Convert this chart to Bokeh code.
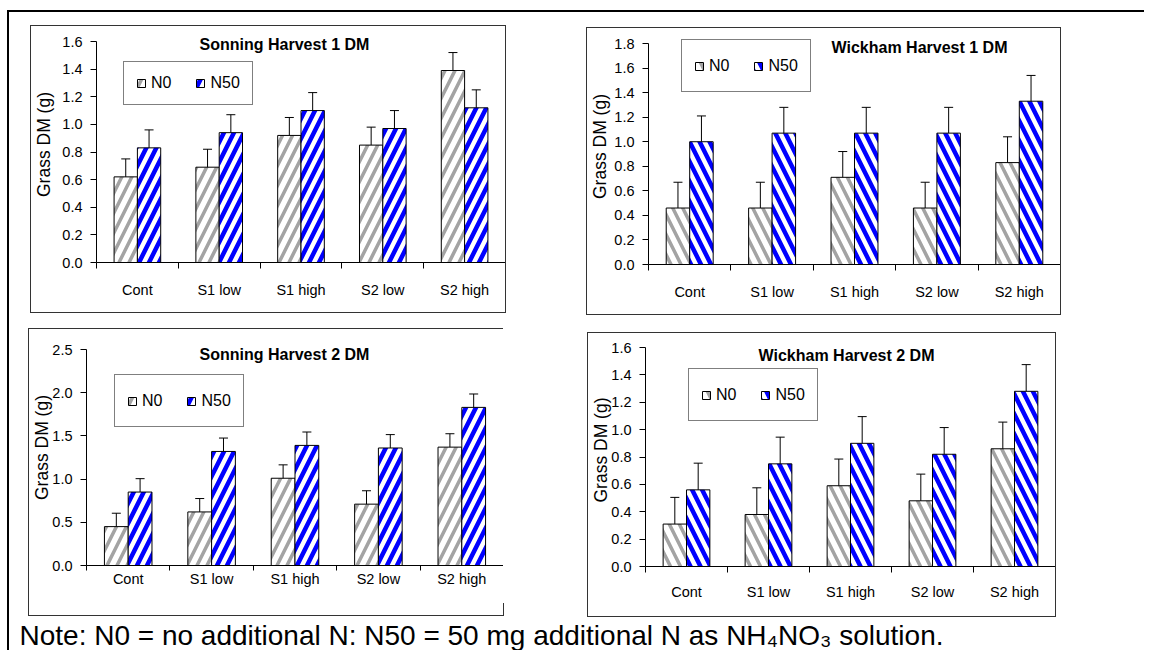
from bokeh.plotting import figure
from bokeh.models import (ColumnDataSource, Range1d, LinearAxis, FixedTicker,
                          NumeralTickFormatter, Legend, LegendItem, Label, Spacer)
from bokeh.layouts import column, row
from bokeh.embed import file_html
from bokeh.resources import INLINE

FONT = "Liberation Sans"

# ---------------- data ----------------
categories = ["Cont", "S1 low", "S1 high", "S2 low", "S2 high"]
series_labels = ["N0", "N50"]
y_axis_label = "Grass DM (g)"

sonning_h1_title = "Sonning Harvest 1 DM"
sonning_h1_n0 = [0.62, 0.69, 0.92, 0.85, 1.39]
sonning_h1_n50 = [0.83, 0.94, 1.10, 0.97, 1.12]
sonning_h1_err_n0 = [0.13, 0.13, 0.13, 0.13, 0.13]
sonning_h1_err_n50 = [0.13, 0.13, 0.13, 0.13, 0.13]
sonning_h1_ticks = [0.0, 0.2, 0.4, 0.6, 0.8, 1.0, 1.2, 1.4, 1.6]

wickham_h1_title = "Wickham Harvest 1 DM"
wickham_h1_n0 = [0.46, 0.46, 0.71, 0.46, 0.83]
wickham_h1_n50 = [1.00, 1.07, 1.07, 1.07, 1.33]
wickham_h1_err_n0 = [0.21, 0.21, 0.21, 0.21, 0.21]
wickham_h1_err_n50 = [0.21, 0.21, 0.21, 0.21, 0.21]
wickham_h1_ticks = [0.0, 0.2, 0.4, 0.6, 0.8, 1.0, 1.2, 1.4, 1.6, 1.8]

sonning_h2_title = "Sonning Harvest 2 DM"
sonning_h2_n0 = [0.45, 0.62, 1.01, 0.71, 1.37]
sonning_h2_n50 = [0.85, 1.32, 1.39, 1.36, 1.83]
sonning_h2_err_n0 = [0.155, 0.155, 0.155, 0.155, 0.155]
sonning_h2_err_n50 = [0.155, 0.155, 0.155, 0.155, 0.155]
sonning_h2_ticks = [0.0, 0.5, 1.0, 1.5, 2.0, 2.5]

wickham_h2_title = "Wickham Harvest 2 DM"
wickham_h2_n0 = [0.31, 0.38, 0.59, 0.48, 0.86]
wickham_h2_n50 = [0.56, 0.75, 0.90, 0.82, 1.28]
wickham_h2_err_n0 = [0.195, 0.195, 0.195, 0.195, 0.195]
wickham_h2_err_n50 = [0.195, 0.195, 0.195, 0.195, 0.195]
wickham_h2_ticks = [0.0, 0.2, 0.4, 0.6, 0.8, 1.0, 1.2, 1.4, 1.6]

note_text = "Note: N0 = no additional N: N50 = 50 mg additional N as NH\u2084NO\u2083 solution."

GRAY = "#a3a3a3"
BLUE = "#0000ff"
BOXLINE = "#333333"


def hatch_kwargs(direction, color, width):
    pat = "right_diagonal_line" if direction == "/" else "left_diagonal_line"
    return dict(hatch_pattern=pat, hatch_color=color, hatch_scale=20, hatch_weight=width)


def S(w, h, color=None):
    if color:
        return Spacer(width=w, height=h, styles={"background-color": color})
    return Spacer(width=w, height=h)


def make_panel(cfg):
    bl, bt, br, bb = cfg["box"]          # box lines in page pixels
    W, H = br - bl - 1, bb - bt - 1       # canvas inside the box lines
    ox, oy = bl + 1, bt + 1
    fl = cfg["axis_x"] - ox
    fb = cfg["y0"] - oy
    ytop = cfg["ytop"] - oy
    ymax = cfg["ticks"][-1]
    yend = ymax * fb / (fb - ytop)
    n = len(categories)
    p = figure(width=W, height=H, output_backend="svg", toolbar_location=None,
               x_range=Range1d(0.5, n + 0.5), y_range=Range1d(0, yend),
               x_axis_type=None, y_axis_type=None,
               min_border_left=fl, min_border_top=0,
               min_border_right=0, min_border_bottom=H - fb)
    p.outline_line_color = None
    p.background_fill_color = "white"
    p.border_fill_color = "white"

    xs = list(range(1, n + 1))
    off, bw = 0.1425, 0.285
    src0 = ColumnDataSource(dict(x=[x - off for x in xs], top=cfg["n0"],
                                 hi=[v + e for v, e in zip(cfg["n0"], cfg["e0"])]))
    src1 = ColumnDataSource(dict(x=[x + off for x in xs], top=cfg["n50"],
                                 hi=[v + e for v, e in zip(cfg["n50"], cfg["e50"])]))

    r0 = p.vbar(x="x", top="top", bottom=0, width=bw, source=src0,
                fill_color="white", line_color="black", line_width=1,
                **hatch_kwargs(cfg["dir"], GRAY, 3.5))
    r1 = p.vbar(x="x", top="top", bottom=0, width=bw, source=src1,
                fill_color="white", line_color="black", line_width=1,
                **hatch_kwargs(cfg["dir"], BLUE, 4.5))

    for src in (src0, src1):
        p.segment(x0="x", y0="top", x1="x", y1="hi", source=src,
                  line_color="black", line_width=1)
        p.scatter(x="x", y="hi", source=src, marker="dash", size=9,
                  line_color="black", line_width=1)

    yax = LinearAxis(ticker=FixedTicker(ticks=cfg["ticks"], minor_ticks=[]),
                     formatter=NumeralTickFormatter(format="0.0"),
                     axis_label=y_axis_label, bounds=(0, ymax))
    yax.axis_line_color = "black"
    yax.major_tick_line_color = "black"
    yax.major_tick_out = 6
    yax.major_tick_in = 0
    yax.minor_tick_line_color = None
    yax.major_label_standoff = 8
    yax.major_label_text_font = FONT
    yax.major_label_text_font_size = "14.5px"
    yax.major_label_text_color = "black"
    yax.axis_label_text_font = FONT
    yax.axis_label_text_font_size = "17.5px"
    yax.axis_label_text_font_style = "normal"
    yax.axis_label_text_color = "black"
    yax.axis_label_standoff = cfg["ylstand"]
    p.add_layout(yax, "left")

    xax = LinearAxis(ticker=FixedTicker(ticks=xs,
                                        minor_ticks=[x - 0.5 for x in xs] + [xs[-1] + 0.5]),
                     major_label_overrides={x: c for x, c in zip(xs, categories)})
    xax.axis_line_color = "black"
    xax.major_tick_line_color = None
    xax.major_tick_out = 0
    xax.major_tick_in = 0
    xax.minor_tick_line_color = "black"
    xax.minor_tick_out = cfg["xtick"]
    xax.minor_tick_in = 0
    xax.major_label_standoff = cfg["xstand"]
    xax.major_label_text_font = FONT
    xax.major_label_text_font_size = "14.5px"
    xax.major_label_text_color = "black"
    p.add_layout(xax, "below")

    ll, lb = cfg["legend"]
    lg = Legend(items=[LegendItem(label=series_labels[0], renderers=[r0]),
                       LegendItem(label=series_labels[1], renderers=[r1])],
                orientation="horizontal",
                location=(ll - cfg["axis_x"], cfg["y0"] - lb),
                glyph_width=10, glyph_height=10, label_standoff=5,
                spacing=24, padding=12, margin=0,
                label_height=cfg["lh"],
                label_text_font=FONT, label_text_font_size="16px",
                label_text_color="black",
                border_line_color="black", border_line_width=1,
                background_fill_color="white", background_fill_alpha=1.0)
    p.add_layout(lg)

    tx, ty = cfg["title_pos"]
    p.add_layout(Label(x=tx - cfg["axis_x"], y=cfg["y0"] - ty,
                       x_units="screen", y_units="screen",
                       text=cfg["title"], text_align="center", text_baseline="middle",
                       text_font=FONT, text_font_size="16px", text_font_style="bold",
                       text_color="black"))

    # box lines drawn as thin coloured spacers around the canvas
    rg = cfg.get("right_gap")
    if rg:
        right = column(S(1, rg), S(1, H + 2 - rg, BOXLINE))
    else:
        right = S(1, H + 2, BOXLINE)
    boxed = row(S(1, H + 2, BOXLINE), column(S(W, 1, BOXLINE), p, S(W, 1, BOXLINE)), right)
    return boxed


cfg1 = dict(box=(30, 25, 505, 312), axis_x=96, y0=262, ytop=41, ticks=sonning_h1_ticks,
            n0=sonning_h1_n0, n50=sonning_h1_n50, e0=sonning_h1_err_n0, e50=sonning_h1_err_n50,
            dir="/", title=sonning_h1_title, title_pos=(284, 44),
            legend=(123, 105), lh=18, xtick=6, xstand=13, ylstand=5)
cfg2 = dict(box=(586, 27, 1060, 314), axis_x=648, y0=264, ytop=43, ticks=wickham_h1_ticks,
            n0=wickham_h1_n0, n50=wickham_h1_n50, e0=wickham_h1_err_n0, e50=wickham_h1_err_n50,
            dir="\\", title=wickham_h1_title, title_pos=(919, 47),
            legend=(681, 92), lh=27, xtick=6, xstand=13, ylstand=1)
cfg3 = dict(box=(28, 328, 503, 615), axis_x=86, y0=565, ytop=349, ticks=sonning_h2_ticks,
            n0=sonning_h2_n0, n50=sonning_h2_n50, e0=sonning_h2_err_n0, e50=sonning_h2_err_n50,
            dir="/", title=sonning_h2_title, title_pos=(284, 354),
            legend=(114, 427), lh=27, xtick=5, xstand=0, ylstand=-3, right_gap=275)
cfg4 = dict(box=(587, 332, 1055, 616), axis_x=645, y0=566, ytop=347, ticks=wickham_h2_ticks,
            n0=wickham_h2_n0, n50=wickham_h2_n50, e0=wickham_h2_err_n0, e50=wickham_h2_err_n50,
            dir="\\", title=wickham_h2_title, title_pos=(846, 355),
            legend=(688, 421), lh=27, xtick=6, xstand=11, ylstand=-3)

b1, b2, b3, b4 = (make_panel(c) for c in (cfg1, cfg2, cfg3, cfg4))

ORIGIN_X, ROW1_Y, ROW2_Y = 9, 12, 315
row1 = row(column(S(1, cfg1["box"][1] - ROW1_Y), row(S(cfg1["box"][0] - ORIGIN_X, 1), b1)),
           column(S(1, cfg2["box"][1] - ROW1_Y), row(S(cfg2["box"][0] - cfg1["box"][2] - 1, 1), b2)))
row2 = row(column(S(1, cfg3["box"][1] - ROW2_Y), row(S(cfg3["box"][0] - ORIGIN_X, 1), b3)),
           column(S(1, cfg4["box"][1] - ROW2_Y), row(S(cfg4["box"][0] - cfg3["box"][2] - 1, 1), b4)))

# note strip
NOTE_W, NOTE_H = 1135, 33
pn = figure(width=NOTE_W, height=NOTE_H, output_backend="svg", toolbar_location=None,
            x_range=Range1d(0, NOTE_W), y_range=Range1d(NOTE_H, 0),
            x_axis_type=None, y_axis_type=None, min_border=0)
pn.outline_line_color = None
pn.background_fill_color = "white"
pn.border_fill_color = "white"
pn.add_layout(Label(x=10, y=NOTE_H, text=note_text, text_font=FONT, text_font_size="28px",
                    text_baseline="bottom", text_color="black"))

body = column(row1, row2, pn)
layout = column(S(1144, 10),
                row(S(7, 2), S(1137, 2, "black")),
                row(S(7, 1), S(2, 638, "black"), body))

with open("out.html", "w") as f:
    f.write(file_html(layout, INLINE))
